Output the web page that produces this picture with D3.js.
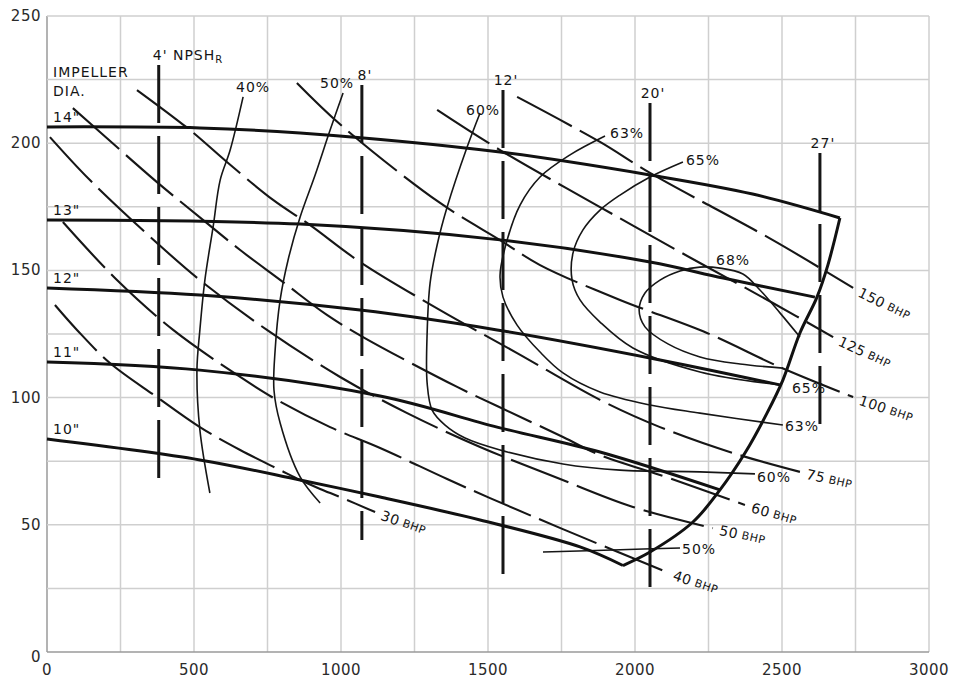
<!DOCTYPE html>
<html><head><meta charset="utf-8">
<script src="https://cdn.jsdelivr.net/npm/d3@7"></script>
<style>
body{margin:0;background:#fff}
svg{display:block}
text{font-family:"DejaVu Sans",sans-serif;fill:#151515}
</style>
</head><body>
<svg id="c" width="961" height="683"></svg>
<script>
// ---------- axis ticks ----------
const xTicks=[0,500,1000,1500,2000,2500,3000];
const yTicks=[0,50,100,150,200,250];

// ---------- impeller head curves (Q gpm, H ft) ----------
const impellerLabels=['14"','13"','12"','11"','10"'];
const imp14=[[0,206.4],[520,206.0],[861,204.0],[1541,196.5],[2051,187.5],[2400,180.0],[2697,170.6]];
const imp13=[[0,169.8],[861,168.2],[1541,162.0],[2051,153.3],[2300,147.0],[2612,139.5]];
const imp12=[[0,143.1],[520,140.3],[1065,134.4],[1531,126.6],[2085,114.8],[2493,105.0]];
const imp11=[[0,114.0],[520,110.8],[1133,100.6],[1531,88.4],[1881,78.6],[2289,63.7]];
const imp10=[[0,83.7],[520,75.5],[861,67.6],[1133,60.9],[1473,51.9],[1813,41.3],[1959,34.0]];
// end-of-curve boundary
const boundary=[[1959,34.0],[2051,39.3],[2197,51.1],[2289,63.7],[2374,78.2],[2449,93.9],[2503,106.9],[2561,125.4],[2619,139.5],[2656,152.1],[2697,170.6]];

// ---------- efficiency contours ----------
const eff40=[[667,218.2],[623,197.3],[589,185.5],[565,167.1],[537,146.2],[520,126.6],[510,110.8],[520,87.3],[554,62.5]];
const eff50=[[1007,219.7],[963,205.2],[912,187.5],[861,171.0],[820,154.1],[793,138.4],[776,118.7],[772,103.0],[793,90.0],[861,68.8],[929,58.6]];
const eff50b=[[1687,39.3],[1950,40.2],[2153,40.9]];
const eff60=[[1473,211.9],[1429,198.5],[1361,174.9],[1327,160.0],[1303,145.0],[1293,125.4],[1293,105.7],[1310,95.1],[1354,89.2],[1422,84.1],[1541,79.4],[1755,73.9],[1949,71.5],[2221,70.8],[2408,70.0]];
const eff63=[[1898,202.8],[1779,195.4],[1677,186.7],[1609,175.7],[1565,161.9],[1541,148.2],[1551,139.5],[1599,128.5],[1677,117.9],[1755,109.7],[1881,102.2],[2051,97.1],[2221,93.9],[2503,89.2]];
const eff65=[[2163,192.6],[2051,186.7],[1949,179.6],[1881,173.7],[1823,165.9],[1789,156.8],[1786,146.2],[1813,138.4],[1881,129.7],[1993,119.5],[2221,110.1],[2493,105.0]];
const eff68=[[2561,123.8],[2493,133.3],[2425,142.3],[2367,148.6],[2289,150.9],[2221,151.3],[2153,149.8],[2085,146.2],[2034,141.1],[2014,134.4],[2034,127.8],[2112,121.1],[2221,116.0],[2357,113.2],[2503,111.6]];

// ---------- brake horsepower lines ----------
const bhpNames=["150","125","100","75","60","50","40","30"];
const bhp150=[[1599,218.2],[1881,200.5],[2051,188.3],[2469,161.9],[2742,143.1]];
const bhp125=[[1327,213.1],[1541,197.3],[1881,174.9],[2221,152.9],[2469,137.2],[2674,123.8]];
const bhp100=[[850,223.7],[1007,206.4],[1337,176.5],[1541,161.9],[1677,152.1],[1949,138.4],[2245,125.4],[2493,112.0],[2742,100.2]];
const bhp75=[[306,220.9],[486,205.2],[612,192.6],[769,177.7],[895,167.8],[1065,153.3],[1337,134.4],[1599,117.5],[1881,99.1],[2085,88.4],[2333,78.2],[2561,70.8]];
const bhp60=[[88,213.8],[180,204.4],[374,184.7],[544,168.6],[657,158.0],[803,145.4],[952,132.5],[1075,123.8],[1395,104.2],[1531,96.7],[1755,84.5],[1881,77.4],[2085,69.6],[2374,57.8]];
const bhp50=[[10,202.4],[146,185.5],[374,160.8],[520,146.2],[748,126.6],[997,108.1],[1225,93.9],[1473,80.6],[1711,69.6],[1993,57.0],[2265,48.7]];
const bhp40=[[54,169.0],[238,146.2],[429,126.6],[657,108.1],[782,99.1],[963,88.4],[1133,80.2],[1361,68.0],[1507,60.5],[1769,47.6],[2109,31.4]];
const bhp30=[[27,136.4],[102,126.6],[214,113.6],[374,100.2],[520,88.4],[657,79.4],[793,71.5],[861,67.6],[929,64.1],[997,60.9],[1116,55.0]];

// ---------- NPSH required ----------
const npshLabels=["4'","8'","12'","20'","27'"];
const npshQ=[380,1071,1551,2051,2629];
const npshTop=[230.7,222.9,220.9,215.8,196.1];
const npshBottom=[67.6,44.0,25.6,21.2,84.5];

// =====================================================
const svg=d3.select("#c");
const x=d3.scaleLinear().domain([0,3000]).range([47,929]);
const y=d3.scaleLinear().domain([0,250]).range([652,16]);
const smooth=d3.line().x(d=>x(d[0])).y(d=>y(d[1])).curve(d3.curveCatmullRom.alpha(0.5));

// grid
const g=svg.append("g");
g.selectAll("line.v").data(d3.range(0,3001,250)).join("line")
  .attr("x1",d=>x(d)).attr("x2",d=>x(d)).attr("y1",y(0)).attr("y2",y(250))
  .attr("stroke",d=>d===0?"#9a9a9a":"#cfcfcf").attr("stroke-width",1.5);
g.selectAll("line.h").data(d3.range(0,251,25)).join("line")
  .attr("y1",d=>y(d)).attr("y2",d=>y(d)).attr("x1",x(0)).attr("x2",x(3000))
  .attr("stroke",d=>d===0?"#9a9a9a":"#cfcfcf").attr("stroke-width",1.5);

// tick labels
svg.append("g").selectAll("text").data(yTicks).join("text")
  .attr("x",x(0)-6).attr("y",d=>y(d)+(d===0?5:0)).attr("text-anchor","end")
  .attr("dominant-baseline","central").attr("font-size",15).attr("letter-spacing",0.5)
  .style("fill","#2a2a2a").text(d=>d);
svg.append("g").selectAll("text").data(xTicks).join("text")
  .attr("x",d=>x(d)).attr("y",675).attr("text-anchor","middle")
  .attr("font-size",15).attr("letter-spacing",0.5).style("fill","#2a2a2a").text(d=>d);

// efficiency contours
const effSeries=[eff40,eff50,eff50b,eff60,eff63,eff65,eff68];
svg.append("g").selectAll("path").data(effSeries).join("path")
  .attr("d",smooth).attr("fill","none").attr("stroke","#161616").attr("stroke-width",1.6);

// bhp lines
const bhpSeries=[bhp150,bhp125,bhp100,bhp75,bhp60,bhp50,bhp40,bhp30];
svg.append("g").selectAll("path").data(bhpSeries).join("path")
  .attr("d",smooth).attr("fill","none").attr("stroke","#161616").attr("stroke-width",2.1)
  .attr("stroke-dasharray","62,9");

// NPSH lines
svg.append("g").selectAll("line").data(npshQ).join("line")
  .attr("x1",d=>x(d)).attr("x2",d=>x(d))
  .attr("y1",(d,i)=>y(npshTop[i])).attr("y2",(d,i)=>y(npshBottom[i]))
  .attr("stroke","#161616").attr("stroke-width",3).attr("stroke-dasharray","58,13");

// impeller curves + boundary
const impSeries=[imp14,imp13,imp12,imp11,imp10];
svg.append("g").selectAll("path").data(impSeries).join("path")
  .attr("d",smooth).attr("fill","none").attr("stroke","#111").attr("stroke-width",3);
svg.append("path").attr("d",smooth(boundary)).attr("fill","none")
  .attr("stroke","#111").attr("stroke-width",3).attr("stroke-linejoin","miter");

// ---------- labels ----------
const L=svg.append("g").attr("font-size",14).attr("letter-spacing",1);
L.append("text").attr("x",53).attr("y",77).text("IMPELLER");
L.append("text").attr("x",53).attr("y",96).text("DIA.");
impSeries.forEach((s,i)=>{
  L.append("text").attr("x",53).attr("y",y(s[0][1])-5).text(impellerLabels[i]);
});

// NPSH labels
npshQ.forEach((q,i)=>{
  const t=L.append("text").attr("y",y(npshTop[i])-5);
  if(i===0){
    t.attr("x",x(q)-6).attr("text-anchor","start");
    t.append("tspan").text(npshLabels[i]+" NPSH");
    t.append("tspan").attr("font-size",10).attr("dy",3).text("R");
  } else {
    t.attr("x",x(q)+3).attr("text-anchor","middle").text(npshLabels[i]);
  }
});

// efficiency labels
function P(s,k){const d=s[k<0?s.length+k:k];return [x(d[0]),y(d[1])];}
const effLab=[
  [eff40,0,"40%",10,-5,"middle"],
  [eff50,0,"50%",-6,-5,"middle"],
  [eff60,0,"60%",3,2,"middle"],
  [eff63,0,"63%",5,2,"start"],
  [eff65,0,"65%",3,3,"start"],
  [eff65,-1,"65%",12,8,"start"],
  [eff63,-1,"63%",2,6,"start"],
  [eff60,-1,"60%",2,8,"start"],
  [eff50b,-1,"50%",2,6,"start"]
];
effLab.forEach(([s,k,t,dx,dy,anc])=>{
  const p=P(s,k);
  L.append("text").attr("x",p[0]+dx).attr("y",p[1]+dy).attr("text-anchor",anc).text(t);
});
// 68% label near loop top
{
  const top=eff68.reduce((a,b)=>b[1]>a[1]?b:a);
  L.append("text").attr("x",x(top[0])+16).attr("y",y(top[1])-2).text("68%");
}

// BHP labels along line ends
bhpSeries.forEach((s,i)=>{
  const a=P(s,-2), b=P(s,-1);
  const ang=Math.atan2(b[1]-a[1],b[0]-a[0]);
  const px=b[0]+7*Math.cos(ang), py=b[1]+7*Math.sin(ang);
  const t=L.append("text").attr("transform",`translate(${px},${py}) rotate(${ang*180/Math.PI*0.85})`)
    .attr("dominant-baseline","central").attr("letter-spacing",0.5);
  t.append("tspan").attr("font-size",14).text(bhpNames[i]);
  t.append("tspan").attr("font-size",11).attr("dx",4).text("BHP");
});
</script>
</body></html>
